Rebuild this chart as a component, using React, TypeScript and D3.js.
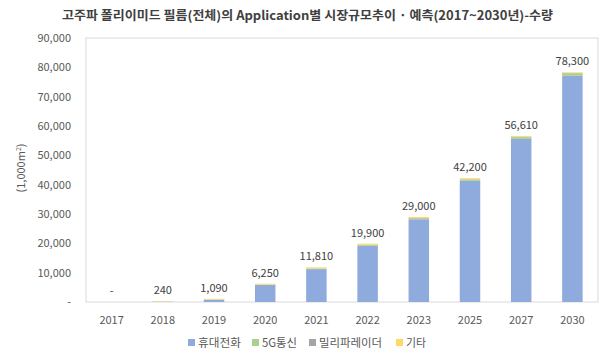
import React from "react";
import * as d3 from "d3";

const years = ["2017", "2018", "2019", "2020", "2021", "2022", "2023", "2025", "2027", "2030"];
const totals = [0, 240, 1090, 6250, 11810, 19900, 29000, 42200, 56610, 78300];
const phone = [0, 80, 800, 5800, 11200, 19200, 28200, 41300, 55600, 77100];
const fiveG = [0, 0, 20, 100, 200, 250, 350, 450, 600, 800];
const mmWave = [0, 10, 20, 50, 60, 70, 80, 100, 120, 150];
const other = [0, 150, 250, 300, 350, 380, 370, 350, 290, 250];
const seriesNames = ["휴대전화", "5G통신", "밀리파레이더", "기타"];
const seriesColors = ["#8FAADC", "#A9D18E", "#A5A5A5", "#FFD966"];
const yTicks = [0, 10000, 20000, 30000, 40000, 50000, 60000, 70000, 80000, 90000];

const W = 610, H = 359;
const left = 86, right = 598, top = 38, bottom = 302;
const FONT = "'Noto Sans CJK KR', 'Noto Sans', sans-serif";

export default function App() {
  const x = d3.scaleBand().domain(years).range([left, right]).paddingInner(0.6).paddingOuter(0.3);
  const y = d3.scaleLinear().domain([0, 90000]).range([bottom, top]);
  const table = years.map((yr, i) => ({ year: yr, s0: phone[i], s1: fiveG[i], s2: mmWave[i], s3: other[i] }));
  const stack = d3.stack<any>().keys(["s0", "s1", "s2", "s3"])(table);
  const fmt = d3.format(",");
  const legendX = [188, 252, 309, 396];
  const legendW = [43, 35, 63, 20];

  return (
    <svg width={W} height={H} style={{ position: "absolute", left: 0, top: 0, background: "#fff" }} fontFamily={FONT}>
      <text x={62} y={20} fontSize={12.5} fontWeight="bold" fill="#404040" textLength={491} lengthAdjust="spacingAndGlyphs">
        고주파 폴리이미드 필름(전체)의 Application별 시장규모추이 · 예측(2017~2030년)-수량
      </text>
      <rect x={left} y={top} width={right - left} height={bottom - top} fill="none" stroke="#D9D9D9" />
      {yTicks.map((t) => (
        <text key={t} x={71} y={y(t) + 4} textAnchor="end" fontSize={11} fill="#595959">
          {t === 0 ? "-" : fmt(t)}
        </text>
      ))}
      <text transform={`translate(25,${168}) rotate(-90)`} textAnchor="middle" fontSize={11} fill="#595959">
        (1,000m<tspan fontSize={7} dy={-4}>2</tspan><tspan dy={4}>)</tspan>
      </text>
      {stack.map((layer, li) => (
        <g key={li} fill={seriesColors[li]}>
          {layer.map((d, i) => (
            <rect key={i} x={x(years[i])} y={y(d[1])} width={x.bandwidth()} height={Math.max(0, y(d[0]) - y(d[1]))} />
          ))}
        </g>
      ))}
      {years.map((yr, i) => (
        <text key={yr} x={x(yr)! + x.bandwidth() / 2} y={y(totals[i]) - 7} textAnchor="middle" fontSize={11} fill="#404040">
          {totals[i] === 0 ? "-" : fmt(totals[i])}
        </text>
      ))}
      {years.map((yr) => (
        <text key={yr} x={x(yr)! + x.bandwidth() / 2} y={324} textAnchor="middle" fontSize={11} fill="#595959">
          {yr}
        </text>
      ))}
      {seriesNames.map((n, i) => (
        <g key={n}>
          <rect x={legendX[i]} y={339} width={7} height={7} fill={seriesColors[i]} />
          <text x={legendX[i] + 10} y={347} fontSize={11.5} fill="#595959" textLength={legendW[i]} lengthAdjust="spacingAndGlyphs">{n}</text>
        </g>
      ))}
    </svg>
  );
}
